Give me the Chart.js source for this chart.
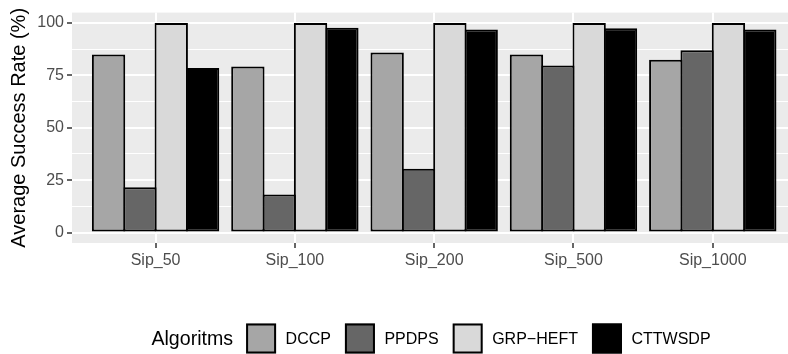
<!DOCTYPE html>
<html>
<head>
<meta charset="utf-8">
<script src="https://cdn.jsdelivr.net/npm/chart.js@4"></script>
<style>
  html, body { margin: 0; padding: 0; background: #ffffff; overflow: hidden; }
  #wrap { width: 788px; height: 354px; position: relative; }
</style>
</head>
<body>
<div id="wrap"><canvas id="c" width="788" height="354"></canvas></div>
<script>
// ---- data ----
const categories = ['Sip_50', 'Sip_100', 'Sip_200', 'Sip_500', 'Sip_1000'];
const seriesNames = ['DCCP', 'PPDPS', 'GRP\u2212HEFT', 'CTTWSDP'];
const dccp    = [85.0, 79.3, 85.9, 85.0, 82.5];
const ppdps   = [21.6, 18.1, 30.5, 79.7, 87.0];
const grpHeft = [100, 100, 100, 100, 100];
const cttwsdp = [78.6, 97.8, 96.9, 97.5, 96.9];
const yMajorTicks = [0, 25, 50, 75, 100];
const yMinorTicks = [12.5, 37.5, 62.5, 87.5];
const yTitle = 'Average Success Rate (%)';
const legendTitle = 'Algoritms';

// ---- styles ----
const fills = ['#A6A6A6', '#666666', '#D9D9D9', '#000000'];
const FONT = '"Liberation Sans", Arial, Helvetica, sans-serif';

const xIndex = categories.map((_, i) => i);
const seriesValues = [dccp, ppdps, grpHeft, cttwsdp];

const datasets = seriesValues.map((vals, s) => ({
  label: seriesNames[s],
  data: vals.map((v, i) => ({ x: xIndex[i], y: v })),
  backgroundColor: fills[s],
  borderColor: '#000000',
  borderWidth: 2,
  borderSkipped: false,
  inflateAmount: 0,
  categoryPercentage: 0.9,
  barPercentage: 1.064
}));

const panelBg = {
  id: 'panelBg',
  beforeDraw(chart) {
    const { ctx, chartArea: a } = chart;
    ctx.save();
    ctx.fillStyle = '#EBEBEB';
    ctx.fillRect(a.left, a.top, a.right - a.left, a.bottom - a.top);
    ctx.restore();
  }
};

const ggLegend = {
  id: 'ggLegend',
  afterDraw(chart) {
    const { ctx, chartArea: a } = chart;
    const ds = chart.data.datasets;
    const titleFont = '19.6px ' + FONT;
    const labFont = '16px ' + FONT;
    const box = 30, gapTitle = 13, gapBoxLab = 9.5, gapItem = 14;
    ctx.save();
    ctx.font = titleFont;
    const tw = ctx.measureText(legendTitle).width;
    ctx.font = labFont;
    const lw = ds.map(d => ctx.measureText(d.label).width);
    let total = tw + gapTitle;
    lw.forEach((w, i) => { total += box + gapBoxLab + w + (i < lw.length - 1 ? gapItem : 0); });
    const cx = (a.left + 797) / 2 - 3.5;
    const cy = 338.5;
    let x = cx - total / 2;
    ctx.fillStyle = '#000000';
    ctx.textBaseline = 'middle';
    ctx.textAlign = 'left';
    ctx.font = titleFont;
    ctx.fillText(legendTitle, x, cy + 1);
    x += tw + gapTitle;
    ctx.font = labFont;
    ds.forEach((d, i) => {
      ctx.fillStyle = d.backgroundColor;
      ctx.fillRect(x, cy - box / 2, box, box);
      ctx.strokeStyle = '#000000';
      ctx.lineWidth = 2;
      ctx.strokeRect(x + 1, cy - box / 2 + 1, box - 2, box - 2);
      x += box + gapBoxLab;
      ctx.fillStyle = '#000000';
      ctx.fillText(d.label, x, cy + 1);
      x += lw[i] + gapItem;
    });
    ctx.restore();
  }
};

new Chart(document.getElementById('c'), {
  type: 'bar',
  data: { datasets },
  plugins: [panelBg, ggLegend],
  options: {
    responsive: false,
    animation: false,
    events: [],
    layout: { padding: { left: 0, top: 9, right: 0, bottom: 71 } },
    plugins: { legend: { display: false }, tooltip: { enabled: false } },
    scales: {
      x: {
        type: 'linear',
        offset: false,
        min: -0.6,
        max: 4.54,
        afterBuildTicks(scale) { scale.ticks = xIndex.map(v => ({ value: v })); },
        afterFit(scale) { scale.height = 40; },
        ticks: {
          autoSkip: false,
          padding: 3,
          color: '#4D4D4D',
          font: { family: FONT, size: 16 },
          callback: (v) => categories[v] !== undefined ? categories[v] : ''
        },
        grid: {
          offset: false,
          color: '#FFFFFF',
          lineWidth: 2,
          drawTicks: true,
          tickLength: 5,
          tickColor: '#333333',
          tickWidth: 1.5
        },
        border: { display: false }
      },
      y: {
        type: 'linear',
        min: -5,
        max: 105,
        afterBuildTicks(scale) {
          scale.ticks = yMajorTicks.concat(yMinorTicks).sort((p, q) => p - q).map(v => ({ value: v }));
        },
        afterFit(scale) { scale.width = 72; },
        ticks: {
          autoSkip: false,
          padding: 3,
          color: '#4D4D4D',
          font: { family: FONT, size: 16 },
          callback: (v) => yMajorTicks.includes(v) ? String(v) : ''
        },
        grid: {
          color: '#FFFFFF',
          lineWidth: (c) => yMajorTicks.includes(c.tick && c.tick.value) ? 2 : 1,
          drawTicks: true,
          tickLength: 5,
          tickColor: (c) => yMajorTicks.includes(c.tick && c.tick.value) ? '#333333' : 'rgba(0,0,0,0)',
          tickWidth: 1.5
        },
        border: { display: false },
        title: {
          display: true,
          text: yTitle,
          color: '#000000',
          font: { family: FONT, size: 20 },
          padding: { top: 7, bottom: 0 }
        }
      }
    }
  }
});
</script>
</body>
</html>
